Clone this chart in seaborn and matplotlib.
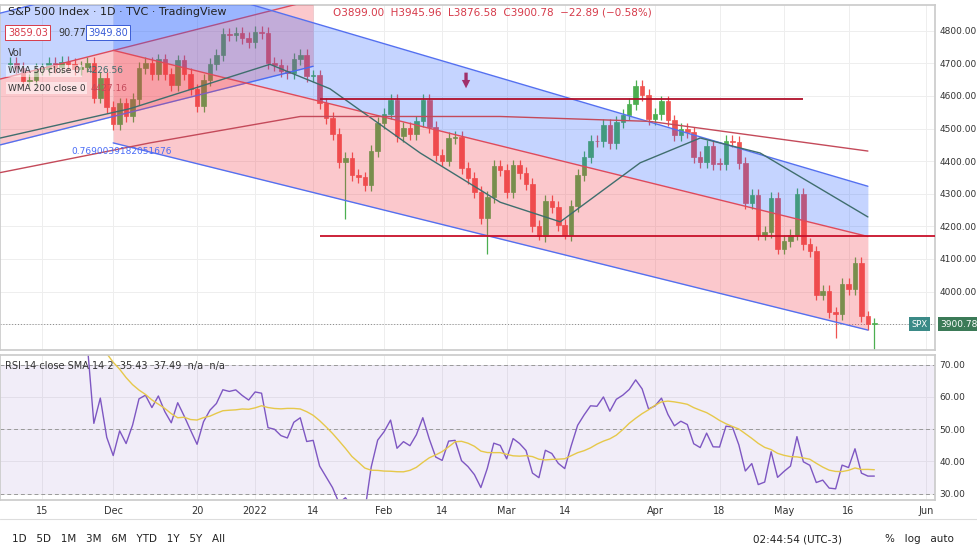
import numpy as np
import pandas as pd
import matplotlib
matplotlib.use("Agg")
import matplotlib.pyplot as plt
import seaborn as sns

# daily closes, warm-up (Oct 18 - Nov 5 2021) used only for RSI
warmup = [4486, 4519, 4536, 4549, 4544, 4566, 4575, 4551, 4596, 4605,
          4614, 4631, 4660, 4680, 4697]
closes = [
    # Nov 8 - Nov 30
    4701, 4685, 4646, 4649, 4682, 4682, 4700, 4688, 4704, 4697, 4682, 4690, 4701, 4595, 4655, 4567,
    # Dec
    4513, 4577, 4538, 4591, 4686, 4701, 4667, 4712, 4668, 4634, 4709, 4668, 4620, 4568, 4649,
    4697, 4726, 4791, 4786, 4793, 4778, 4766,
    # Jan
    4797, 4794, 4701, 4696, 4677, 4670, 4713, 4726, 4660, 4663, 4577, 4533, 4483, 4398, 4410,
    4357, 4350, 4326, 4432, 4516,
    # Feb
    4546, 4589, 4477, 4501, 4484, 4522, 4587, 4504, 4419, 4402, 4472, 4475, 4380, 4349, 4305,
    4226, 4289, 4385, 4374,
    # Mar
    4306, 4387, 4363, 4329, 4201, 4171, 4278, 4260, 4204, 4173, 4262, 4358, 4412, 4463, 4461,
    4512, 4456, 4520, 4543, 4575, 4632, 4602, 4530,
    # Apr
    4545, 4583, 4525, 4481, 4500, 4488, 4413, 4397, 4447, 4392, 4391, 4463, 4460, 4394, 4272,
    4296, 4175, 4183, 4288, 4132,
    # May
    4155, 4175, 4300, 4147, 4123, 3991, 4001, 3936, 3930, 4024, 4008, 4088, 3924, 3901, 3901,
]
prev_close = [4697] + closes[:-1]
big_lows = {"2022-01-24": 4223, "2022-02-24": 4114, "2022-05-12": 3859, "2022-05-20": 3811,
            "2022-03-08": 4157, "2022-05-09": 3975, "2022-03-14": 4162}

holidays = ["2021-11-25", "2021-12-24", "2022-01-17", "2022-02-21", "2022-04-15"]
dates = pd.bdate_range("2021-11-08", "2022-05-20")
dates = dates[~dates.isin(pd.to_datetime(holidays))]

# moving averages (index, price)
wma50_i = [-1.5, 18.6, 40.3, 49.6, 63.6, 76, 85.3, 97.7, 107, 116.3, 133]
wma50_v = [4471, 4561, 4697, 4622, 4425, 4274, 4214, 4395, 4471, 4425, 4229]
wma200_i = [-1.5, 21.7, 45, 76, 99.2, 133]
wma200_v = [4365, 4456, 4537, 4537, 4522, 4431]

# regression channels (start index, end index, lower/mid/upper at start and end)
chan_new = dict(i=[16, 133], lower=[4456, 3882], mid=[4740, 4169], upper=[5005, 4323])
chan_old = dict(i=[-1.5, 47], lower=[4450, 4691], mid=[4652, 4894], upper=[4854, 5097])
hline_hi, hline_lo = 4590, 4170

tick_dates = ["2021-11-15", "2021-12-01", "2021-12-20", "2022-01-03", "2022-01-14", "2022-02-01",
              "2022-02-14", "2022-03-01", "2022-03-14", "2022-04-01", "2022-04-18", "2022-05-02",
              "2022-05-16"]
tick_labels = ["15", "Dec", "20", "2022", "14", "Feb", "14", "Mar", "14", "Apr", "18", "May", "16", "Jun"]

df = pd.DataFrame({"date": dates, "open": prev_close, "close": closes})
df["i"] = np.arange(len(df))
df["high"] = df[["open", "close"]].max(axis=1) + 18
df["low"] = df[["open", "close"]].min(axis=1) - 18
for d, v in big_lows.items():
    df.loc[df["date"] == pd.Timestamp(d), "low"] = v
df["up"] = df["close"] >= df["open"]

# RSI 14 (Wilder) + SMA 14
allc = pd.Series(warmup + closes, dtype=float)
delta = allc.diff()
gain = delta.clip(lower=0).ewm(alpha=1 / 14, adjust=False).mean()
loss = (-delta.clip(upper=0)).ewm(alpha=1 / 14, adjust=False).mean()
rsi = (100 - 100 / (1 + gain / loss)).iloc[len(warmup):].reset_index(drop=True)
df["rsi"] = rsi.values
df["rsi_sma"] = rsi.rolling(14, min_periods=1).mean().values

sns.set_theme(style="white")
fig = plt.figure(figsize=(9.78, 5.52), dpi=100)
fig.patch.set_facecolor("white")
ax = fig.add_axes([0.0, 0.366, 0.956, 0.625])
ax2 = fig.add_axes([0.0, 0.094, 0.956, 0.263], sharex=ax)

GREEN, RED = "#4caf50", "#ef5350"
for _, r in df.iterrows():
    c = GREEN if r["up"] else RED
    ax.vlines(r["i"], r["low"], r["high"], color=c, lw=0.9, zorder=2)
    lo, hi = sorted([r["open"], r["close"]])
    ax.bar(r["i"], max(hi - lo, 2), bottom=lo, width=0.7, color=c, edgecolor=c, lw=0.5, zorder=2)

# channels
for ch in (chan_old, chan_new):
    ax.fill_between(ch["i"], ch["lower"], ch["mid"], color="#f23645", alpha=0.27, lw=0, zorder=3)
    ax.fill_between(ch["i"], ch["mid"], ch["upper"], color="#2962ff", alpha=0.27, lw=0, zorder=3)
    ax.plot(ch["i"], ch["lower"], color="#5470f0", lw=1, zorder=3)
    ax.plot(ch["i"], ch["upper"], color="#5470f0", lw=1, zorder=3)
    ax.plot(ch["i"], ch["mid"], color="#e04a5a", lw=1, zorder=3)
ax.text(9.5, 4423, "0.7690039182051676", color="#4a6cf7", fontsize=6.5, zorder=5)

sns.lineplot(x=wma50_i, y=wma50_v, ax=ax, color="#3f6e6e", lw=1, zorder=4)
sns.lineplot(x=wma200_i, y=wma200_v, ax=ax, color="#c44a5a", lw=1, zorder=4)

ax.hlines(hline_hi, 48, 123, color="#b0102a", lw=1.3, zorder=4)
ax.hlines(hline_lo, 48, 150, color="#c8102a", lw=1.3, zorder=4)
ax.annotate("", xy=(70.7, 4615), xytext=(70.7, 4680),
            arrowprops=dict(arrowstyle="simple", color="#a0306a", lw=0), zorder=5)
ax.axhline(closes[-1], color="#888888", lw=0.7, ls=(0, (1, 2)), zorder=1)

xmin, xmax = -1.55, 143.4
ax.set_xlim(xmin, xmax)
ax.set_ylim(3821, 4879)
ax.yaxis.tick_right()
ax.set_yticks(range(3900, 4801, 100))
ax.set_yticklabels([f"{v}.00" for v in range(3900, 4801, 100)], fontsize=6.5, color="#333333")
ax.tick_params(axis="y", length=0, pad=3)
ax.tick_params(axis="x", length=0, labelbottom=False)
ax.set_ylabel("")
ax.text(1.006, (3900 - 3821) / (4879 - 3821), "3900.78", transform=ax.transAxes, fontsize=6.5,
        color="white", va="center", bbox=dict(boxstyle="square,pad=0.3", fc="#3b7a57", ec="none"))
ax.text(0.975, (3900 - 3821) / (4879 - 3821), "SPX", transform=ax.transAxes, fontsize=6,
        color="white", va="center", bbox=dict(boxstyle="square,pad=0.3", fc="#3b8a87", ec="none"))

# RSI
ax2.axhspan(30, 70, color="#7e57c2", alpha=0.1, lw=0)
for lv in (70, 50, 30):
    ax2.axhline(lv, color="#999999", lw=0.7, ls=(0, (4, 3)))
sns.lineplot(data=df, x="i", y="rsi", ax=ax2, color="#7e57c2", lw=1)
sns.lineplot(data=df, x="i", y="rsi_sma", ax=ax2, color="#e6c84a", lw=1)
ax2.set_ylim(28, 73)
ax2.yaxis.tick_right()
ax2.set_yticks([30, 40, 50, 60, 70])
ax2.set_yticklabels([f"{v}.00" for v in (30, 40, 50, 60, 70)], fontsize=6.5, color="#333333")
ax2.set_ylabel("")
ax2.set_xlabel("")
ax2.text(0.005, 0.9, "RSI 14 close SMA 14 2  35.43  37.49  n/a  n/a", transform=ax2.transAxes,
         fontsize=7, color="#333333")

pos = [df.loc[df["date"] == pd.Timestamp(d), "i"].iloc[0] for d in tick_dates] + [df["i"].iloc[-1] + 8]
ax2.set_xticks(pos)
ax2.set_xticklabels(tick_labels, fontsize=7, color="#333333")
ax2.tick_params(axis="x", length=0, pad=4)
ax2.tick_params(axis="y", length=0, pad=3)

for a in (ax, ax2):
    a.grid(True, color="#eeeeee", lw=0.7)
    a.set_axisbelow(True)
    for s in a.spines.values():
        s.set_color("#cccccc")

# header / legend
fig.text(0.008, 0.972, "S&P 500 Index · 1D · TVC · TradingView", fontsize=8, color="#222222")
fig.text(0.34, 0.972, "O3899.00  H3945.96  L3876.58  C3900.78  −22.89 (−0.58%)", fontsize=7.5, color="#d63a4a")
fig.text(0.008, 0.935, "3859.03", fontsize=7, color="#d63a4a",
         bbox=dict(boxstyle="square,pad=0.25", fc="white", ec="#d63a4a", lw=0.7))
fig.text(0.06, 0.935, "90.77", fontsize=7, color="#333333")
fig.text(0.09, 0.935, "3949.80", fontsize=7, color="#3a5cd6",
         bbox=dict(boxstyle="square,pad=0.25", fc="white", ec="#3a5cd6", lw=0.7))
fig.text(0.008, 0.898, "Vol", fontsize=7, color="#333333")
fig.text(0.008, 0.867, "WMA 50 close 0", fontsize=6.5, color="#333333",
         bbox=dict(boxstyle="square,pad=0.2", fc="white", ec="none", alpha=0.5))
fig.text(0.088, 0.867, "4226.56", fontsize=6.5, color="#3f6e6e")
fig.text(0.008, 0.836, "WMA 200 close 0", fontsize=6.5, color="#333333",
         bbox=dict(boxstyle="square,pad=0.2", fc="white", ec="none", alpha=0.5))
fig.text(0.093, 0.836, "4427.16", fontsize=6.5, color="#c44a5a")

# bottom toolbar
fig.add_artist(plt.Line2D([0, 1], [0.06, 0.06], color="#dddddd", lw=0.8))
fig.text(0.012, 0.018, "1D   5D   1M   3M   6M   YTD   1Y   5Y   All", fontsize=7.5, color="#222222")
fig.text(0.77, 0.018, "02:44:54 (UTC-3)", fontsize=7.5, color="#222222")
fig.text(0.905, 0.018, "%   log   auto", fontsize=7.5, color="#222222")

fig.savefig("out.png", dpi=100)
